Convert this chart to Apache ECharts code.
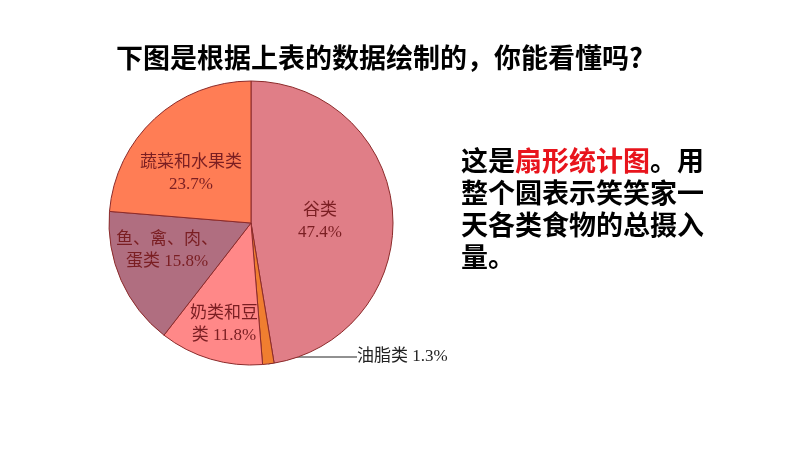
<!DOCTYPE html>
<html><head><meta charset="utf-8">
<script src="https://cdn.jsdelivr.net/npm/echarts@6/dist/echarts.min.js"></script>
<style>html,body{margin:0;padding:0;background:#fff}#c{width:800px;height:450px}</style>
</head><body><div id="c"></div>
<script>
var categories = ['谷类', '油脂类', '奶类和豆类', '鱼、禽、肉、蛋类', '蔬菜和水果类'];
var labelTexts = ['谷类\n47.4%', '油脂类 1.3%', '奶类和豆\n类 11.8%', '鱼、禽、肉、\n蛋类 15.8%', '蔬菜和水果类\n23.7%'];
var values = [47.4, 1.3, 11.8, 15.8, 23.7];
var colors = ['#E07E87', '#F07E30', '#FF8888', '#B06E80', '#FF7D55'];

// label anchor positions (centre of each label block)
var labelPos = [[320, 222], [357, 357], [224, 325], [167, 251], [191, 174]];

var chart = echarts.init(document.getElementById('c'));
var data = categories.map(function (c, i) {
  var d = { name: c, value: values[i], itemStyle: { color: colors[i] } };
  if (i === 1) {
    d.label = { position: 'outside', color: '#222', fontSize: 17 };
    d.labelLine = { show: true, length: 10, length2: 60, lineStyle: { color: '#222', width: 1 } };
  } else {
    d.labelLine = { show: false };
  }
  return d;
});
chart.setOption({
  animation: false,
  title: [{
    text: '下图是根据上表的数据绘制的，你能看懂吗?',
    left: 111, top: 39,
    textStyle: { fontFamily: 'Noto Sans CJK SC', fontSize: 27, fontWeight: 'bold', color: '#000' }
  }, {
    text: '{a|这是}{r|扇形统计图}{a|。用}\n{a|整个圆表示笑笑家一}\n{a|天各类食物的总摄入}\n{a|量。}',
    left: 456, top: 140,
    textStyle: {
      rich: {
        a: { fontFamily: 'Noto Sans CJK SC', fontSize: 27, fontWeight: 'bold', color: '#000', lineHeight: 32 },
        r: { fontFamily: 'Noto Sans CJK SC', fontSize: 27, fontWeight: 'bold', color: '#E8141C', lineHeight: 32 }
      }
    }
  }],
  series: [{
    type: 'pie',
    center: [251, 223],
    radius: 142,
    startAngle: 90,
    clockwise: true,
    data: data,
    itemStyle: { borderColor: '#8B2A2A', borderWidth: 1 },
    label: {
      position: 'inside',
      formatter: function (p) { return labelTexts[p.dataIndex]; },
      fontFamily: 'Liberation Serif, Noto Sans CJK SC',
      fontSize: 17,
      lineHeight: 22,
      color: '#7A1E22'
    },
    labelLayout: function (p) {
      var s = labelPos[p.dataIndex];
      if (p.dataIndex === 1) {
        return { x: s[0], y: s[1], align: 'left', verticalAlign: 'middle' };
      }
      return { x: s[0], y: s[1], align: 'center', verticalAlign: 'middle' };
    }
  }]
});
</script></body></html>
